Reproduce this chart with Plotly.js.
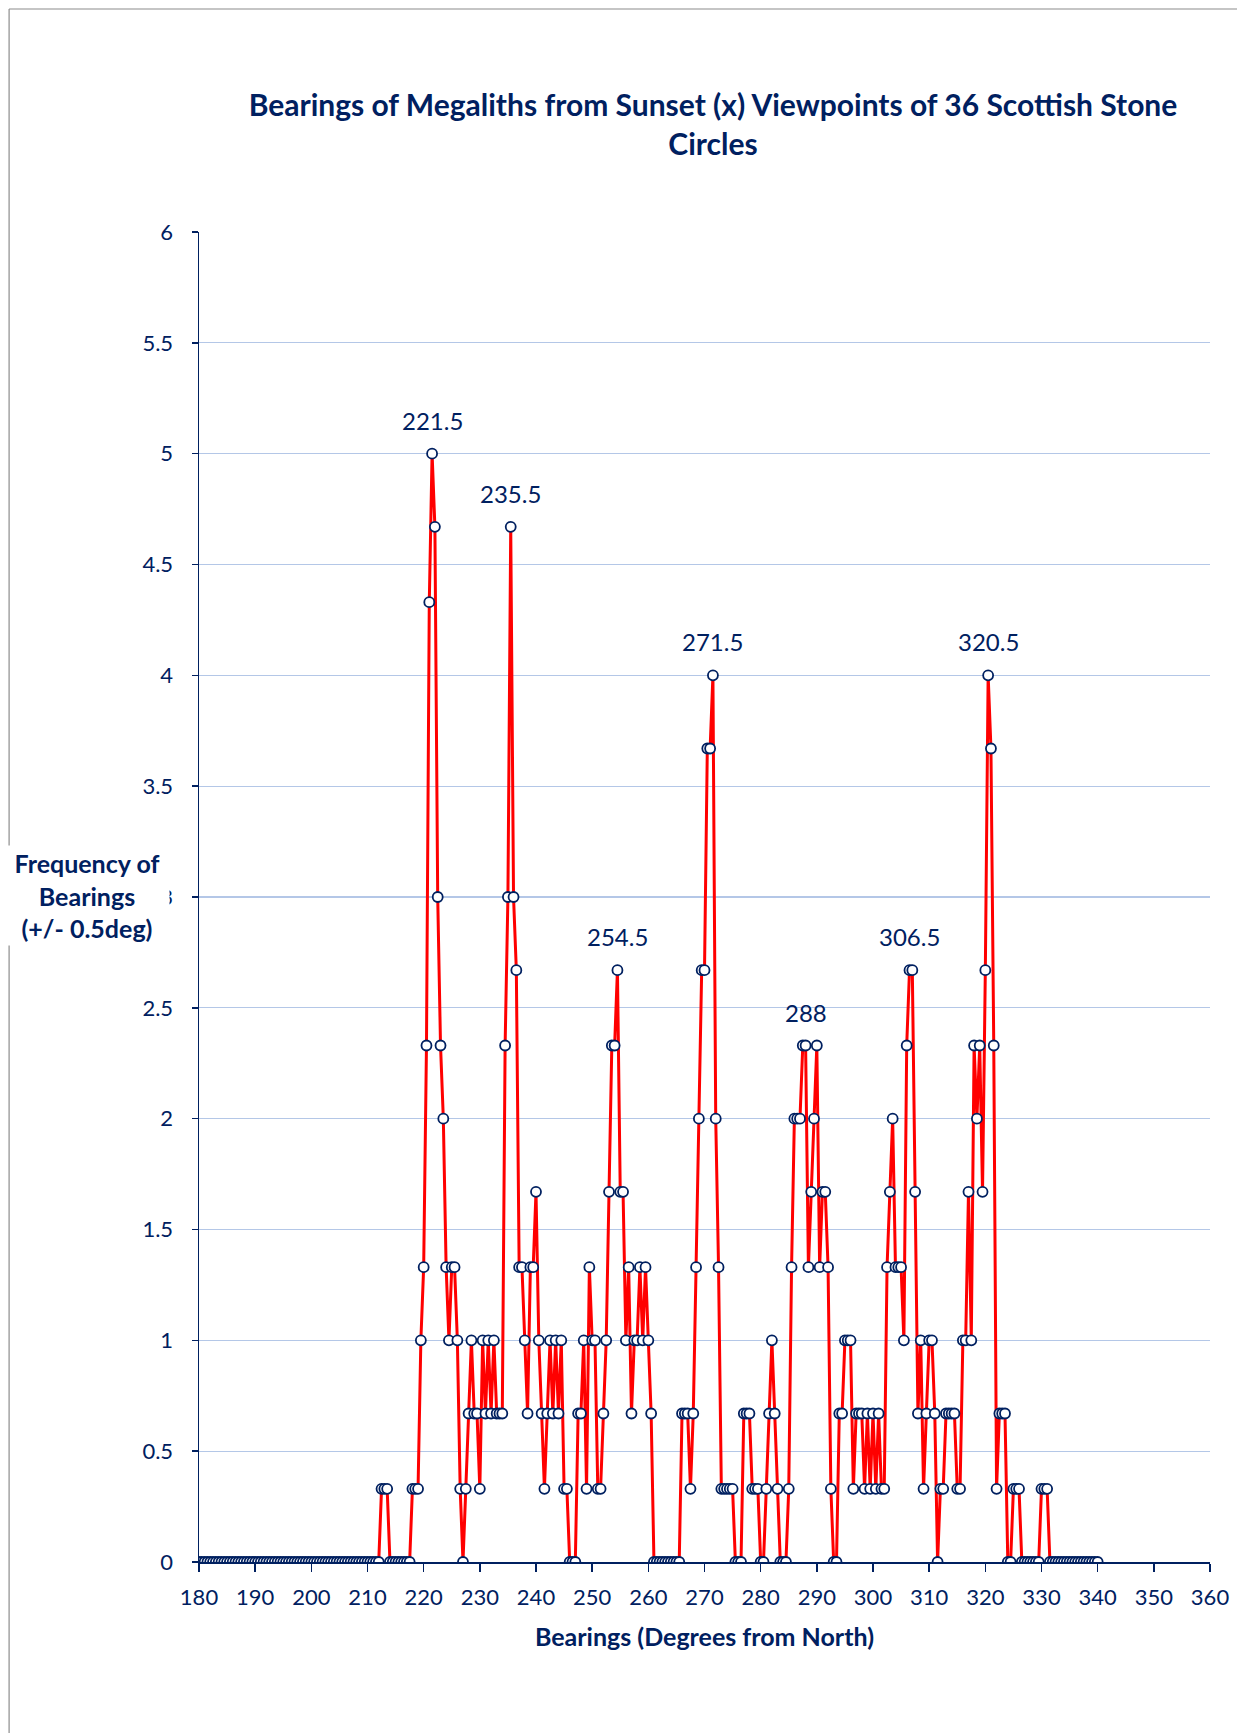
<!DOCTYPE html>
<html>
<head>
<meta charset="utf-8">
<script src="https://cdn.plot.ly/plotly-3.0.1.min.js"></script>
<style>
  html, body { margin: 0; padding: 0; background: #ffffff; }
  #chart { width: 1237px; height: 1733px; }
</style>
</head>
<body>
<div id="chart"></div>
<script>
// Bearings (degrees from North), every half degree from 180 to 340
const bearings = [
  180,180.5,181,181.5,182,182.5,183,183.5,184,184.5,185,185.5,186,186.5,187,187.5,188,188.5,189,189.5,
  190,190.5,191,191.5,192,192.5,193,193.5,194,194.5,195,195.5,196,196.5,197,197.5,198,198.5,199,199.5,
  200,200.5,201,201.5,202,202.5,203,203.5,204,204.5,205,205.5,206,206.5,207,207.5,208,208.5,209,209.5,
  210,210.5,211,211.5,212,212.5,213,213.5,214,214.5,215,215.5,216,216.5,217,217.5,218,218.5,219,219.5,
  220,220.5,221,221.5,222,222.5,223,223.5,224,224.5,225,225.5,226,226.5,227,227.5,228,228.5,229,229.5,
  230,230.5,231,231.5,232,232.5,233,233.5,234,234.5,235,235.5,236,236.5,237,237.5,238,238.5,239,239.5,
  240,240.5,241,241.5,242,242.5,243,243.5,244,244.5,245,245.5,246,246.5,247,247.5,248,248.5,249,249.5,
  250,250.5,251,251.5,252,252.5,253,253.5,254,254.5,255,255.5,256,256.5,257,257.5,258,258.5,259,259.5,
  260,260.5,261,261.5,262,262.5,263,263.5,264,264.5,265,265.5,266,266.5,267,267.5,268,268.5,269,269.5,
  270,270.5,271,271.5,272,272.5,273,273.5,274,274.5,275,275.5,276,276.5,277,277.5,278,278.5,279,279.5,
  280,280.5,281,281.5,282,282.5,283,283.5,284,284.5,285,285.5,286,286.5,287,287.5,288,288.5,289,289.5,
  290,290.5,291,291.5,292,292.5,293,293.5,294,294.5,295,295.5,296,296.5,297,297.5,298,298.5,299,299.5,
  300,300.5,301,301.5,302,302.5,303,303.5,304,304.5,305,305.5,306,306.5,307,307.5,308,308.5,309,309.5,
  310,310.5,311,311.5,312,312.5,313,313.5,314,314.5,315,315.5,316,316.5,317,317.5,318,318.5,319,319.5,
  320,320.5,321,321.5,322,322.5,323,323.5,324,324.5,325,325.5,326,326.5,327,327.5,328,328.5,329,329.5,
  330,330.5,331,331.5,332,332.5,333,333.5,334,334.5,335,335.5,336,336.5,337,337.5,338,338.5,339,339.5,
  340
];

// Frequency of bearings (+/- 0.5 deg)
const frequency = [
  0,0,0,0,0,0,0,0,0,0,0,0,0,0,0,0,0,0,0,0,
  0,0,0,0,0,0,0,0,0,0,0,0,0,0,0,0,0,0,0,0,
  0,0,0,0,0,0,0,0,0,0,0,0,0,0,0,0,0,0,0,0,
  0,0,0,0,0,0.33,0.33,0.33,0,0,0,0,0,0,0,0,0.33,0.33,0.33,1,
  1.33,2.33,4.33,5,4.67,3,2.33,2,1.33,1,1.33,1.33,1,0.33,0,0.33,0.67,1,0.67,0.67,
  0.33,1,0.67,1,0.67,1,0.67,0.67,0.67,2.33,3,4.67,3,2.67,1.33,1.33,1,0.67,1.33,1.33,
  1.67,1,0.67,0.33,0.67,1,0.67,1,0.67,1,0.33,0.33,0,0,0,0.67,0.67,1,0.33,1.33,
  1,1,0.33,0.33,0.67,1,1.67,2.33,2.33,2.67,1.67,1.67,1,1.33,0.67,1,1,1.33,1,1.33,
  1,0.67,0,0,0,0,0,0,0,0,0,0,0.67,0.67,0.67,0.33,0.67,1.33,2,2.67,
  2.67,3.67,3.67,4,2,1.33,0.33,0.33,0.33,0.33,0.33,0,0,0,0.67,0.67,0.67,0.33,0.33,0.33,
  0,0,0.33,0.67,1,0.67,0.33,0,0,0,0.33,1.33,2,2,2,2.33,2.33,1.33,1.67,2,
  2.33,1.33,1.67,1.67,1.33,0.33,0,0,0.67,0.67,1,1,1,0.33,0.67,0.67,0.67,0.33,0.67,0.33,
  0.67,0.33,0.67,0.33,0.33,1.33,1.67,2,1.33,1.33,1.33,1,2.33,2.67,2.67,1.67,0.67,1,0.33,0.67,
  1,1,0.67,0,0.33,0.33,0.67,0.67,0.67,0.67,0.33,0.33,1,1,1.67,1,2.33,2,2.33,1.67,
  2.67,4,3.67,2.33,0.33,0.67,0.67,0.67,0,0,0.33,0.33,0.33,0,0,0,0,0,0,0,
  0.33,0.33,0.33,0,0,0,0,0,0,0,0,0,0,0,0,0,0,0,0,0,
  0
];

// Bearings whose peaks carry a data label
const peakBearings = [221.5, 235.5, 254.5, 271.5, 288, 306.5, 320.5];

const xTickValues = [180,190,200,210,220,230,240,250,260,270,280,290,300,310,320,330,340,350,360];
const yTickValues = [0,0.5,1,1.5,2,2.5,3,3.5,4,4.5,5,5.5,6];

const chartTitle = 'Bearings of Megaliths from Sunset (x) Viewpoints of 36 Scottish Stone<br>Circles';
const xAxisTitle = 'Bearings (Degrees from North)';
const yAxisTitle = 'Frequency of<br>Bearings<br>(+/- 0.5deg)';

const NAVY = '#002060';
const FONT = 'Lato, "Open Sans", sans-serif';

// plot-area geometry in page pixels
const W = 1237, H = 1733;
const margin = { l: 199, r: 26.5, t: 232, b: 171 };
const plotW = W - margin.l - margin.r;
const plotH = H - margin.t - margin.b;
const px2paperX = px => (px - margin.l) / plotW;
const px2paperY = py => (H - margin.b - py) / plotH;

const trace = {
  type: 'scatter',
  mode: 'lines+markers',
  x: bearings,
  y: frequency,
  line: { color: '#FF0000', width: 3 },
  marker: { symbol: 'circle', size: 10, color: '#FFFFFF', line: { color: NAVY, width: 1.8 } },
  hoverinfo: 'x+y',
  showlegend: false
};

const peakAnnotations = peakBearings.map(b => {
  const i = bearings.indexOf(b);
  return {
    x: b, y: frequency[i], xref: 'x', yref: 'y',
    text: String(b), showarrow: false,
    xanchor: 'center', yanchor: 'bottom', yshift: 17,
    font: { family: FONT, size: 24, color: NAVY }
  };
});

const yTitleAnnotation = {
  xref: 'paper', yref: 'paper',
  x: px2paperX(87), y: px2paperY(896),
  xanchor: 'center', yanchor: 'middle',
  text: yAxisTitle, showarrow: false, align: 'center',
  width: 160, bgcolor: '#FFFFFF', borderpad: 2,
  font: { family: FONT, size: 25, color: NAVY, weight: 700 }
};

const layout = {
  width: W, height: H,
  margin: margin,
  paper_bgcolor: '#FFFFFF',
  plot_bgcolor: '#FFFFFF',
  title: {
    text: chartTitle,
    font: { family: FONT, size: 30, color: NAVY, weight: 700 },
    xref: 'container', yref: 'container',
    x: 713 / W, xanchor: 'center',
    y: 1 - 116 / H, yanchor: 'top'
  },
  xaxis: {
    range: [180, 360],
    tickmode: 'array', tickvals: xTickValues, ticktext: xTickValues.map(String),
    showgrid: false, zeroline: false,
    showline: true, linecolor: NAVY, linewidth: 1.5,
    ticks: 'outside', ticklen: 8, tickwidth: 1.5, tickcolor: NAVY,
    ticklabelstandoff: 7,
    tickfont: { family: FONT, size: 22, color: NAVY },
    title: { text: xAxisTitle, standoff: 19, font: { family: FONT, size: 25, color: NAVY, weight: 700 } },
    automargin: false, fixedrange: true
  },
  yaxis: {
    range: [0, 6],
    tickmode: 'array', tickvals: yTickValues, ticktext: yTickValues.map(String),
    showgrid: true, gridcolor: '#B4C7E7', gridwidth: 1.3,
    zeroline: false,
    showline: true, linecolor: NAVY, linewidth: 1.5,
    ticks: 'outside', ticklen: 6, tickwidth: 1.5, tickcolor: NAVY,
    ticklabelstandoff: 14,
    tickfont: { family: FONT, size: 22, color: NAVY },
    automargin: false, fixedrange: true
  },
  annotations: peakAnnotations.concat([yTitleAnnotation]),
  shapes: [
    { type: 'line', xref: 'paper', yref: 'paper',
      x0: px2paperX(9), x1: px2paperX(9), y0: px2paperY(9), y1: px2paperY(H + 5),
      line: { color: '#8C8C8C', width: 1.2 } },
    { type: 'line', xref: 'paper', yref: 'paper',
      x0: px2paperX(9), x1: px2paperX(W + 5), y0: px2paperY(9), y1: px2paperY(9),
      line: { color: '#8C8C8C', width: 1.2 } }
  ]
};

Plotly.newPlot('chart', [trace], layout, { displayModeBar: false, staticPlot: true });
</script>
</body>
</html>
